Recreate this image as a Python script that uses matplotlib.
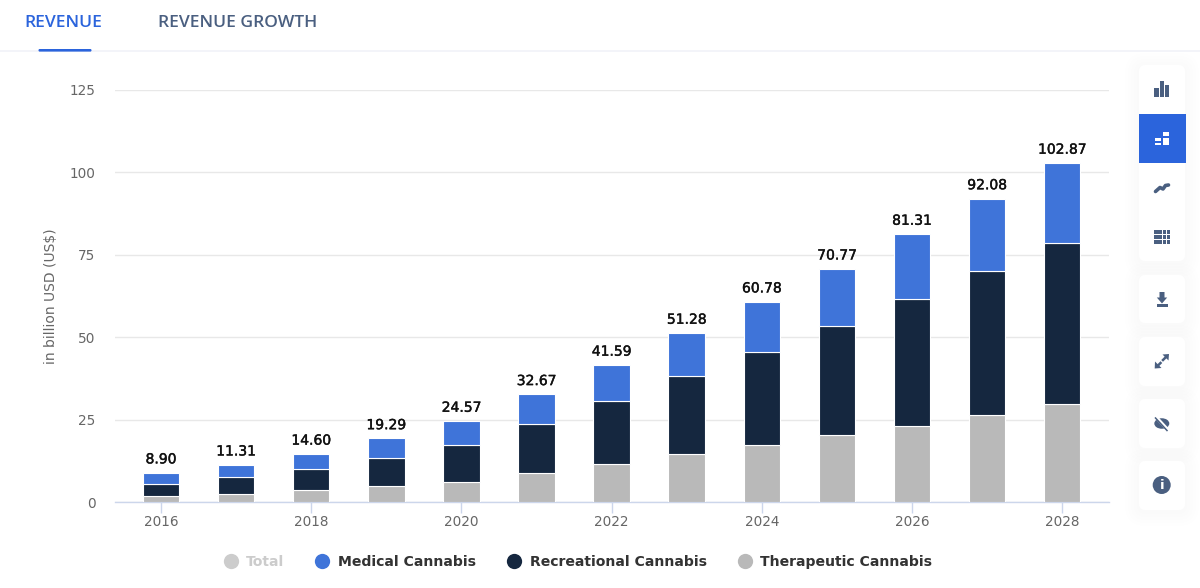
import matplotlib
matplotlib.use('Agg')
import matplotlib.pyplot as plt
import matplotlib.patheffects as pe
import numpy as np
from matplotlib.lines import Line2D
from matplotlib.patches import Circle, Ellipse, FancyBboxPatch, Polygon, Rectangle

# values
years = [2016, 2017, 2018, 2019, 2020, 2021, 2022, 2023, 2024, 2025, 2026, 2027, 2028]
total = [8.90, 11.31, 14.60, 19.29, 24.57, 32.67, 41.59, 51.28, 60.78, 70.77, 81.31, 92.08, 102.87]
therapeutic = [1.8, 2.3, 3.5, 4.8, 6.2, 8.8, 11.5, 14.6, 17.4, 20.2, 23.2, 26.4, 29.6]
recreational = [3.6, 5.2, 6.4, 8.6, 11.1, 14.8, 19.2, 23.6, 28.2, 33.3, 38.5, 43.6, 49.1]
medical = [3.5, 3.81, 4.7, 5.89, 7.27, 9.07, 10.89, 13.08, 15.18, 17.27, 19.61, 22.08, 24.17]
y_ticks = [0, 25, 50, 75, 100, 125]
x_ticks = [2016, 2018, 2020, 2022, 2024, 2026, 2028]
tabs = ['REVENUE', 'REVENUE GROWTH']
legend_names = ['Total', 'Medical Cannabis', 'Recreational Cannabis', 'Therapeutic Cannabis']

BLUE = '#3f74d9'
NAVY = '#15273f'
GREY = '#b9b9b9'
ACTIVE = '#2b64dc'
ICON = '#4a5f80'

plt.rcParams['font.family'] = ['DejaVu Sans']

fig = plt.figure(figsize=(12, 5.88), dpi=100)
fig.patch.set_facecolor('white')

# chart area, pixel box 115..1109 wide, y=0 at 502 and y=125 at 90
ax = fig.add_axes([115 / 1200, 1 - 502 / 588, 994 / 1200, 412 / 588])
x0 = 2016 - (161 - 115) / 75.1
ax.set_xlim(x0, x0 + 994 / 75.1)
ax.set_ylim(0, 125)
ax.set_facecolor('none')

x = np.array(years)
bar_w = 0.485
ax.bar(x, therapeutic, bar_w, color=GREY, edgecolor='white', linewidth=0.8, zorder=3)
ax.bar(x, recreational, bar_w, bottom=therapeutic, color=NAVY, edgecolor='white', linewidth=0.8, zorder=3)
ax.bar(x, medical, bar_w, bottom=np.array(therapeutic) + np.array(recreational),
       color=BLUE, edgecolor='white', linewidth=0.8, zorder=3)

# regular weight plus a thin stroke comes closest to the semibold labels
for xi, t in zip(years, total):
    ax.annotate(f'{t:.2f}', (xi, t), xytext=(0, 4.5), textcoords='offset points', ha='center', va='bottom',
                fontsize=10, color='#111111', zorder=4,
                path_effects=[pe.withStroke(linewidth=0.3, foreground='#111111')])

ax.set_yticks(y_ticks)
ax.set_xticks(x_ticks)
ax.grid(axis='y', color='#e8e8e8', linewidth=1, zorder=0)
ax.tick_params(axis='y', length=0, pad=14, labelsize=9.8, labelcolor='#666666')
ax.tick_params(axis='x', length=8, width=1, color='#ccd6eb', pad=1, labelsize=9.8, labelcolor='#666666')
for name in ['top', 'right', 'left']:
    ax.spines[name].set_visible(False)
ax.spines['bottom'].set_color('#ccd6eb')
ax.spines['bottom'].set_linewidth(1)
ax.set_ylabel('in billion USD (US$)', fontsize=10, color='#666666', labelpad=8)

handles = [Line2D([], [], ls='', marker='o', ms=11, color=c, mec='none')
           for c in ['#cccccc', BLUE, NAVY, GREY]]
leg = fig.legend(handles, legend_names, ncol=4, loc='center', bbox_to_anchor=(574.5 / 1200, 1 - 562 / 588),
                 frameon=False, handletextpad=0.12, columnspacing=1.7,
                 prop={'size': 10.1, 'weight': 'bold'})
for txt, c in zip(leg.get_texts(), ['#cccccc', '#333333', '#333333', '#333333']):
    txt.set_color(c)

# page furniture in pixel coordinates: tabs and the side toolbar
ui = fig.add_axes([0, 0, 1, 1], zorder=5)
ui.set_xlim(0, 1200)
ui.set_ylim(588, 0)
ui.axis('off')
ui.patch.set_alpha(0)

ui.add_patch(Rectangle((0, 50), 1200, 2, color='#f3f4f9', lw=0))
ui.add_patch(FancyBboxPatch((38.5, 49), 53, 2.6, boxstyle='round,pad=0,rounding_size=1.2', color=ACTIVE, lw=0))
ui.text(63, 23, tabs[0], ha='center', va='center', fontsize=12.6, color=ACTIVE, family='Open Sans', fontweight=600)
ui.text(238, 23, tabs[1], ha='center', va='center', fontsize=12.6, color=ICON, family='Open Sans', fontweight=600)


def card(top, bottom):
    for grow in [14, 11, 8, 5, 2]:
        ui.add_patch(FancyBboxPatch((1139 - grow, top - grow + 2), 46 + 2 * grow, bottom - top + 2 * grow,
                                    boxstyle=f'round,pad=0,rounding_size={6 + grow}', color='#20304f', alpha=0.004, lw=0))
    ui.add_patch(FancyBboxPatch((1139, top), 46, bottom - top, boxstyle='round,pad=0,rounding_size=6',
                                color='white', lw=0))


card(65, 261)
card(275, 323)
card(337, 386)
card(399, 448)
card(461, 510)
ui.add_patch(Rectangle((1138.5, 114), 47, 49, color=ACTIVE, lw=0))

# bars icon
for bx, by, bh in [(1154.3, 88, 9), (1160, 81, 16), (1165, 85, 12)]:
    ui.add_patch(Rectangle((bx, by), 4.2, bh, color=ICON, lw=0))
# stacked icon
for bx, by, bw, bh in [(1155, 137.7, 6, 3), (1155, 142.5, 6, 2.8), (1162.7, 132, 5.8, 4.2), (1162.7, 137.7, 5.8, 7.6)]:
    ui.add_patch(Rectangle((bx, by), bw, bh, color='white', lw=0))
# trend icon
ui.plot([1155.5, 1160, 1163, 1165.5, 1168.5], [191.5, 187.5, 189, 185.5, 185], color=ICON, lw=2.6, solid_capstyle='round')
# table icon
for ty in [230, 235, 240]:
    ui.add_patch(Rectangle((1154, ty), 8.4, 4, color=ICON, lw=0))
    ui.add_patch(Rectangle((1163.3, ty), 2.8, 4, color=ICON, lw=0))
    ui.add_patch(Rectangle((1167, ty), 3, 4, color=ICON, lw=0))
# download icon
ui.add_patch(Polygon([(1159.5, 292), (1159.5, 297.5), (1156.8, 297.5), (1162, 303.5), (1167.2, 297.5), (1164.5, 297.5), (1164.5, 292)],
                     color=ICON, lw=0))
ui.add_patch(Rectangle((1156.7, 304.2), 11, 2.6, color=ICON, lw=0))
# expand icon
ui.add_patch(Polygon([(1162.5, 354.5), (1169, 354), (1168.5, 360.5)], color=ICON, lw=0))
ui.add_patch(Polygon([(1155, 361.5), (1154.7, 368.5), (1161.5, 368)], color=ICON, lw=0))
ui.plot([1165, 1163], [358, 360], color=ICON, lw=1.8)
ui.plot([1158.5, 1160.5], [365, 363], color=ICON, lw=1.8)
# hidden eye icon
ui.add_patch(Ellipse((1161.8, 423.5), 15, 10.5, color=ICON, lw=0))
ui.plot([1155.5, 1168], [416.5, 430], color='white', lw=2.4)
ui.plot([1155.5, 1167], [418, 430.5], color=ICON, lw=1.1)
# info icon
ui.add_patch(Circle((1161.7, 485), 9, color=ICON, lw=0))
ui.text(1161.7, 485.3, 'i', ha='center', va='center', fontsize=9.5, color='white', fontweight='bold')

fig.savefig('out.png', dpi=100)
